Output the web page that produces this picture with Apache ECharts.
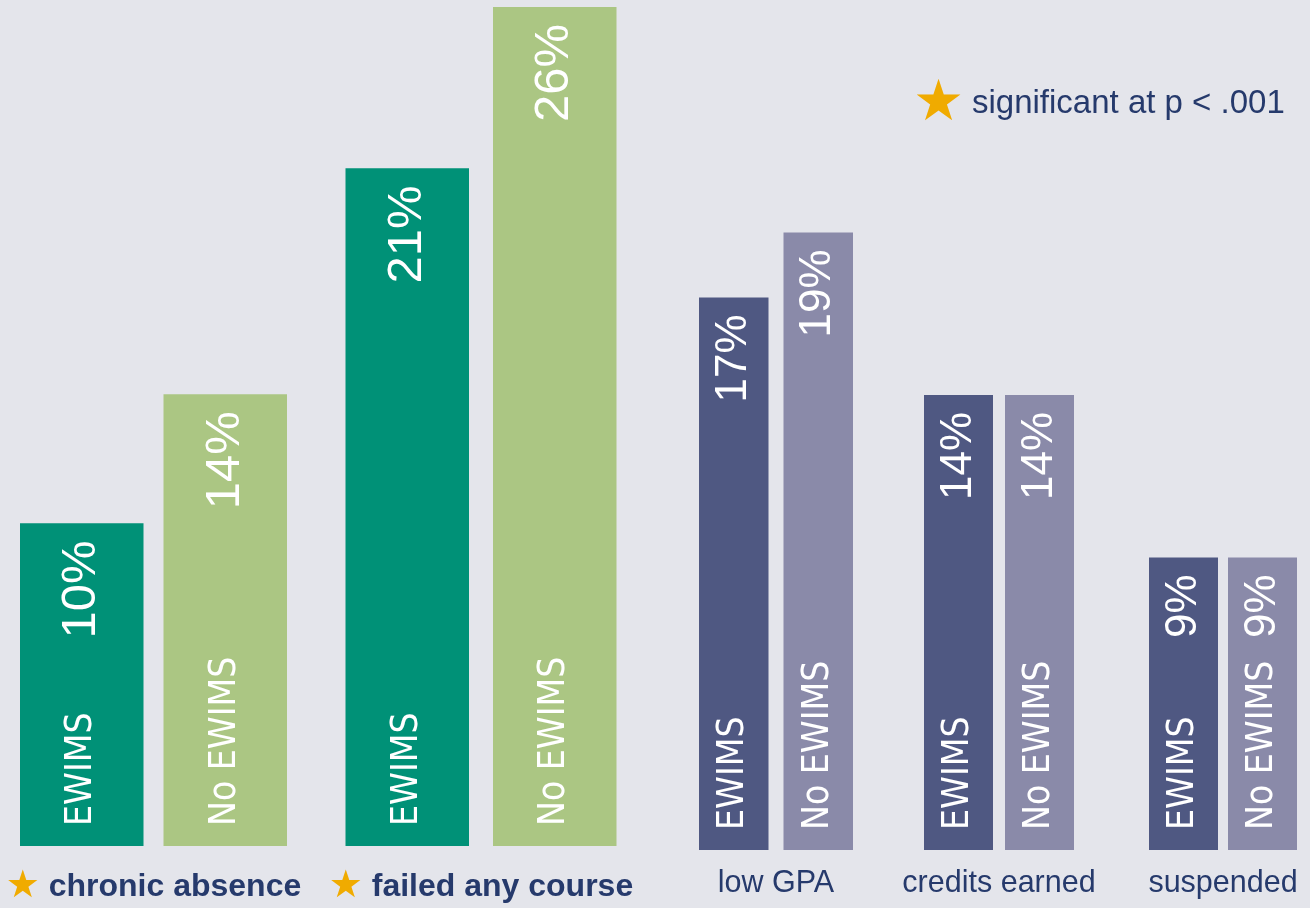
<!DOCTYPE html>
<html>
<head>
<meta charset="utf-8">
<script src="https://cdn.jsdelivr.net/npm/echarts@6/dist/echarts.min.js"></script>
<style>
  html, body { margin: 0; padding: 0; background: #e4e5eb; }
  #main { width: 1310px; height: 908px; }
</style>
</head>
<body>
<div id="main"></div>
<script>
// data
const categories = ['chronic absence', 'failed any course', 'low GPA', 'credits earned', 'suspended'];
const significant = [true, true, false, false, false];
const seriesNames = ['EWIMS', 'No EWIMS'];
const ewims = [10, 21, 17, 14, 9];
const noEwims = [14, 26, 19, 14, 9];
const legendText = 'significant at p < .001';

// layout of each pair of bars (pixels)
const pairLayout = [
  { center: 153.5, barWidth: 123.5, gap: 20, top: 7, bottom: 62, max: 26, group: 0 },
  { center: 481, barWidth: 123.5, gap: 24, top: 7, bottom: 62, max: 26, group: 0 },
  { center: 776, barWidth: 69.5, gap: 15, top: 5, bottom: 58, max: 26, group: 1 },
  { center: 999, barWidth: 69, gap: 12, top: 5, bottom: 58, max: 26, group: 1 },
  { center: 1223, barWidth: 69, gap: 10, top: 5, bottom: 58, max: 26, group: 1 }
];
const groupColors = [
  ['#009177', '#abc683'],
  ['#4f5882', '#8a8aa9']
];
const condensed = "'DejaVu Sans Condensed', 'Liberation Sans', sans-serif";
const sans = "'Liberation Sans', sans-serif";
const navy = '#263a6c';
const gold = '#f0ab00';

var myChart = echarts.init(document.getElementById('main'));

var grid = [], xAxis = [], yAxis = [], series = [];
pairLayout.forEach(function (p, i) {
  var w = 2 * p.barWidth + p.gap + 20;
  grid.push({ left: p.center - w / 2, width: w, top: p.top, bottom: p.bottom, outerBoundsMode: 'none', containLabel: false });
  // visible axis: bars + category label
  xAxis.push({
    type: 'category', gridIndex: i, data: [categories[i]],
    axisLine: { show: false }, axisTick: { show: false },
    axisLabel: {
      margin: p.group === 0 ? 22 : 18,
      formatter: function (v) {
        return significant[i] ? '{s|★}{b| ' + v + '}' : '{n|' + v + '}';
      },
      rich: {
        s: { color: gold, fontSize: 38, fontFamily: 'DejaVu Sans' },
        b: { color: navy, fontSize: 32, fontWeight: 'bold', fontFamily: sans },
        n: { color: navy, fontSize: 30.5, fontFamily: sans }
      }
    }
  });
  // hidden axis for the value labels
  xAxis.push({ type: 'category', gridIndex: i, data: [categories[i]], show: false });
  yAxis.push({ type: 'value', gridIndex: i, min: 0, max: p.max, show: false, splitLine: { show: false } });

  var vals = [ewims[i], noEwims[i]];
  seriesNames.forEach(function (name, k) {
    series.push({
      name: name, type: 'bar', xAxisIndex: 2 * i, yAxisIndex: i,
      barWidth: p.barWidth, barGap: (p.gap / p.barWidth * 100) + '%',
      data: [vals[k]],
      itemStyle: { color: groupColors[p.group][k] },
      label: {
        show: true, position: 'insideBottom', distance: 20, rotate: 90,
        align: 'left', verticalAlign: 'middle',
        formatter: '{a}', color: '#fff', fontSize: 37, fontFamily: condensed
      }
    });
  });
  seriesNames.forEach(function (name, k) {
    series.push({
      name: name + ' value', type: 'bar', xAxisIndex: 2 * i + 1, yAxisIndex: i,
      barWidth: p.barWidth, barGap: (p.gap / p.barWidth * 100) + '%',
      data: [vals[k]], silent: true, z: 3,
      itemStyle: { color: 'transparent' },
      label: {
        show: true, position: 'insideTop', distance: 17, rotate: 90,
        align: 'right', verticalAlign: 'middle',
        formatter: '{c}%', color: '#fff',
        fontSize: p.group === 0 ? 49 : 44, fontFamily: sans
      }
    });
  });
});

myChart.setOption({
  backgroundColor: '#e4e5eb',
  animation: false,
  grid: grid,
  xAxis: xAxis,
  yAxis: yAxis,
  series: series,
  graphic: [
    {
      type: 'text', left: 913, top: 77,
      style: { text: '★', fill: gold, fontSize: 57, fontFamily: 'DejaVu Sans' }
    },
    {
      type: 'text', left: 972, top: 87,
      style: { text: legendText, fill: navy, fontSize: 33, fontFamily: sans }
    }
  ]
});
</script>
</body>
</html>
